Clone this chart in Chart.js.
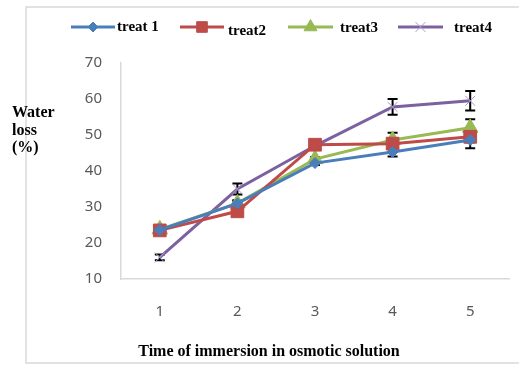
<!DOCTYPE html>
<html><head><meta charset="utf-8">
<script src="https://cdn.jsdelivr.net/npm/chart.js@4"></script>
<style>html,body{margin:0;padding:0;background:#fff}#w{width:519px;height:365px;position:relative}</style>
</head><body><div id="w"><canvas id="c" width="519" height="365"></canvas></div>
<script>
const categories = ['1','2','3','4','5'];
const yTicks = [10,20,30,40,50,60,70];
const seriesNames = ['treat 1','treat2','treat3','treat4'];
const treat1 = [23.6, 31.0, 42.2, 45.3, 48.6];
const treat2 = [23.5, 28.8, 47.3, 47.6, 49.5];
const treat3 = [23.8, 31.0, 43.3, 48.6, 52.0];
const treat4 = [16.0, 35.0, 47.0, 57.8, 59.5];
const err1 = [0.4, 0.8, 0.5, 1.3, 2.3];
const err2 = [0.4, 0.8, 0.5, 1.5, 1.5];
const err3 = [0.4, 0.8, 0.5, 2.0, 2.4];
const err4 = [0.8, 1.5, 0.5, 2.2, 2.7];
const xTitle = 'Time of immersion in osmotic solution';
const yTitle = ['Water', 'loss', '(%)'];

const colors = ['#4a7ebb','#be4b48','#98b954','#7d60a0'];
const styles = ['rectRot','rect','triangle','crossRot'];
const radii = [5.5, 9, 9, 7];
const values = [treat1, treat2, treat3, treat4];
const errs = [err1, err2, err3, err4];

const datasets = values.map((v,i)=>({
  label: seriesNames[i], data: v, errors: errs[i],
  borderColor: colors[i], backgroundColor: colors[i],
  borderWidth: 3, pointStyle: styles[i], pointRadius: radii[i],
  pointBorderWidth: 1,
  pointBorderColor: i===3 ? '#a99bc8' : colors[i],
  pointBackgroundColor: colors[i], tension: 0
}));

const deco = {
  id: 'deco',
  beforeDraw(chart){
    const ctx = chart.ctx;
    ctx.save();
    ctx.strokeStyle = '#d9d9d9'; ctx.lineWidth = 1.5;
    ctx.strokeRect(26, 7, 520, 356);
    ctx.restore();
  },
  beforeDatasetsDraw(chart){
    const ctx = chart.ctx, x = chart.scales.x, y = chart.scales.y;
    ctx.save();
    ctx.strokeStyle = '#000'; ctx.lineWidth = 2;
    chart.data.datasets.forEach(ds=>{
      ds.data.forEach((v,j)=>{
        const e = ds.errors[j];
        const px = x.getPixelForValue(j);
        const t = y.getPixelForValue(v+e), b = y.getPixelForValue(v-e);
        ctx.beginPath();
        ctx.moveTo(px, t); ctx.lineTo(px, b);
        ctx.moveTo(px-5, t); ctx.lineTo(px+5, t);
        ctx.moveTo(px-5, b); ctx.lineTo(px+5, b);
        ctx.stroke();
      });
    });
    ctx.restore();
  },
  afterDraw(chart){
    const ctx = chart.ctx;
    ctx.save();
    const items = [[71,115,117,27],[180,224,228,31],[288,333,340,28],[398,443,454,28]];
    const lr = [5, 7.5, 7.5, 7];
    chart.data.datasets.forEach((ds,i)=>{
      const [x0,x1,tx,ty] = items[i];
      const ly = 27;
      ctx.strokeStyle = ds.borderColor; ctx.lineWidth = 3;
      ctx.beginPath(); ctx.moveTo(x0, ly); ctx.lineTo(x1, ly); ctx.stroke();
      ctx.fillStyle = ds.pointBackgroundColor; ctx.strokeStyle = ds.pointBorderColor; ctx.lineWidth = 1;
      Chart.helpers.drawPoint(ctx, {pointStyle: ds.pointStyle, radius: lr[i], borderWidth: 1, rotation: 0}, (x0+x1)/2, ly);
      ctx.fillStyle = '#000';
      ctx.font = 'bold 15px "Liberation Serif"';
      ctx.textBaseline = 'middle'; ctx.textAlign = 'left';
      ctx.fillText(ds.label, tx, ty);
    });
    ctx.fillStyle = '#000';
    ctx.font = 'bold 16px "Liberation Serif"';
    ctx.textBaseline = 'middle'; ctx.textAlign = 'left';
    yTitle.forEach((s,i)=>ctx.fillText(s, 12, 113 + i*17.5));
    ctx.textAlign = 'center';
    ctx.fillText(xTitle, 269, 352);
    ctx.restore();
  }
};

new Chart(document.getElementById('c'), {
  type: 'line',
  data: { labels: categories, datasets },
  options: {
    responsive: false, animation: false,
    layout: { padding: { left: 0, right: 9, top: 63, bottom: 0 } },
    plugins: { legend: { display: false }, tooltip: { enabled: false } },
    scales: {
      x: {
        offset: true,
        grid: { display: false, drawTicks: false },
        border: { display: true, color: '#d9d9d9', width: 1.5 },
        ticks: { color: '#595959', font: { family: '"Noto Sans"', size: 15 }, padding: 24 },
        afterFit(s){ s.height = 86; }
      },
      y: {
        min: 10, max: 70,
        afterBuildTicks(s){ s.ticks = yTicks.map(v=>({value:v})); },
        grid: { display: false, drawTicks: false },
        border: { display: true, color: '#d9d9d9', width: 1.5 },
        ticks: { color: '#595959', font: { family: '"Noto Sans"', size: 15 }, padding: 19 },
        afterFit(s){ s.width = 121; }
      }
    }
  },
  plugins: [deco]
});
</script>
</body></html>
